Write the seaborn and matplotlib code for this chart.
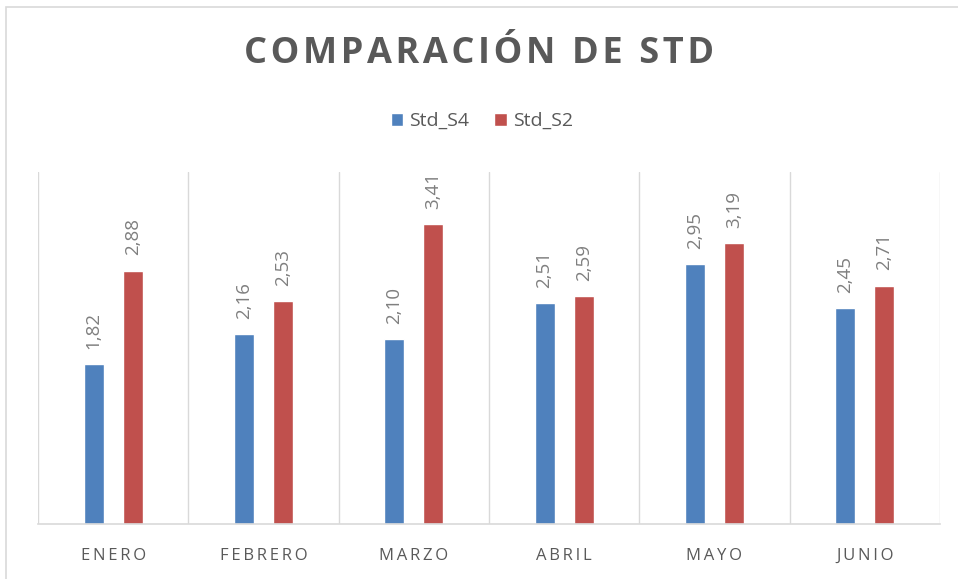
import pandas as pd
import numpy as np
import matplotlib.pyplot as plt
import seaborn as sns
from matplotlib.patches import Rectangle

meses = ['ENERO', 'FEBRERO', 'MARZO', 'ABRIL', 'MAYO', 'JUNIO']
std_s4 = [1.82, 2.16, 2.10, 2.51, 2.95, 2.45]
std_s2 = [2.88, 2.53, 3.41, 2.59, 3.19, 2.71]
series = ['Std_S4', 'Std_S2']
colores = ['#4F81BD', '#C0504D']
titulo = 'COMPARACIÓN DE STD'

df = pd.DataFrame({
    'mes': meses * 2,
    'serie': [series[0]] * len(meses) + [series[1]] * len(meses),
    'valor': std_s4 + std_s2,
})

sns.set_style('white')
plt.rcParams['font.family'] = ['Open Sans', 'DejaVu Sans']

fig = plt.figure(figsize=(9.58, 5.79), dpi=100)
ax = fig.add_axes([38 / 958, 55 / 579, (940 - 38) / 958, (524 - 172) / 579])

sns.barplot(data=df, x='mes', y='valor', hue='serie', palette=colores,
            width=0.52, gap=0.49, ax=ax, saturation=1)

for cont in ax.containers:
    vals = cont.datavalues
    ax.bar_label(cont, labels=[f"{v:.2f}".replace('.', ',') for v in vals],
                 rotation=90, padding=11, fontsize=13.5, color='#7F7F7F')

ax.set_ylim(0, 4)
ax.set_xlim(-0.5, len(meses) - 0.5)
ax.set_yticks([])
ax.set_xlabel('')
ax.set_ylabel('')
ax.set_xticks(range(len(meses)))
# letter spacing like the original
ax.set_xticklabels(['\u2009'.join(m) for m in meses], fontsize=12, color='#595959')
ax.tick_params(axis='x', length=0, pad=17)
ax.set_xticks(np.arange(-0.5, len(meses)), minor=True)
ax.grid(which='minor', axis='x', color='#D9D9D9', linewidth=1)
ax.tick_params(which='minor', length=0)
for s in ['top', 'left', 'right']:
    ax.spines[s].set_visible(False)
ax.spines['bottom'].set_color('#D9D9D9')
ax.spines['bottom'].set_linewidth(1.2)

leg = ax.legend(loc='center', bbox_to_anchor=(0.503, (579 - 121) / 579),
                bbox_transform=fig.transFigure, ncol=2, frameon=False,
                fontsize=14, handlelength=0.65, handleheight=0.65,
                columnspacing=1.3, handletextpad=0.3)
for t in leg.get_texts():
    t.set_color('#595959')

fig.text(0.5, (579 - 54) / 579, '\u200a'.join(titulo), ha='center', va='center',
         fontsize=26, fontweight='bold', color='#595959')

fig.patches.append(Rectangle((6 / 958, -0.01), 1.0, (579 - 7) / 579 + 0.01,
                             transform=fig.transFigure, fill=False,
                             edgecolor='#D9D9D9', linewidth=1.2))

plt.savefig('out.png', dpi=100)
